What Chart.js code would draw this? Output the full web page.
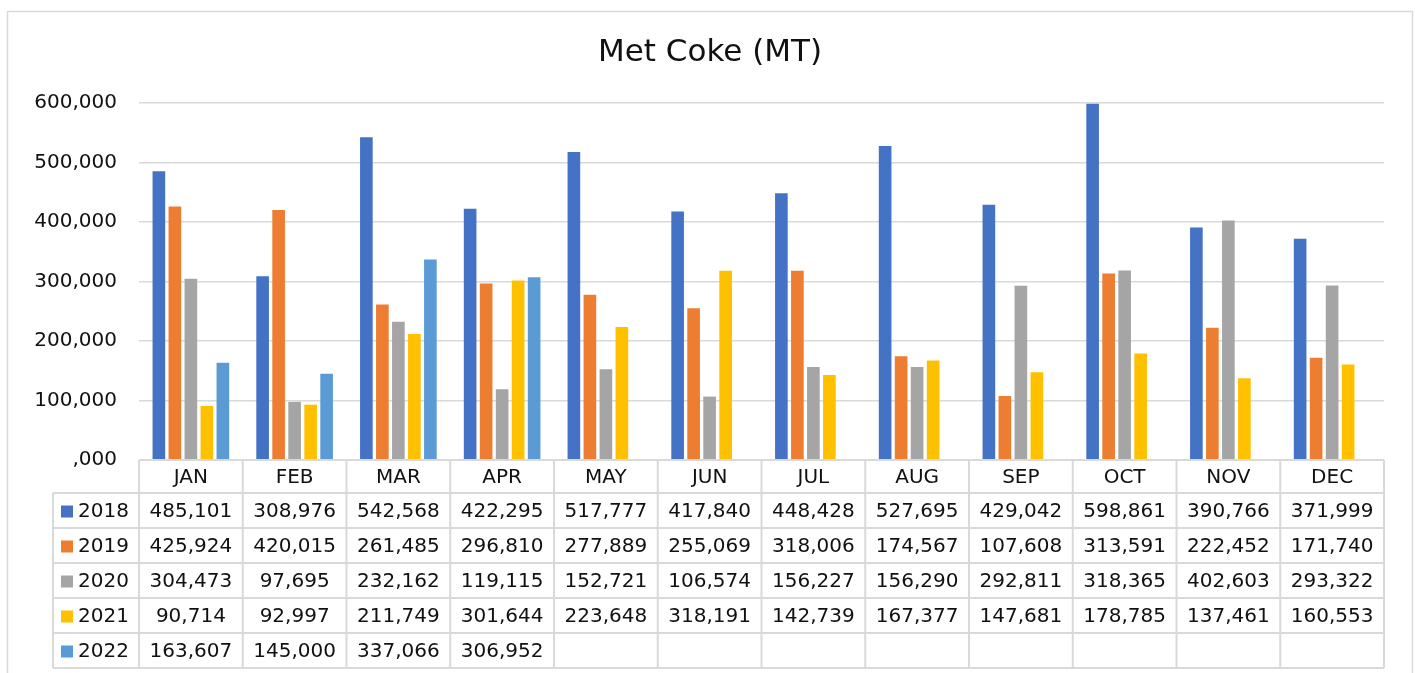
<!DOCTYPE html>
<html>
<head>
<meta charset="utf-8">
<script src="https://cdn.jsdelivr.net/npm/chart.js@4.4.1/dist/chart.umd.min.js"></script>
<style>
  html, body { margin: 0; padding: 0; background: #fff; overflow: hidden; }
  #wrap { width: 1415px; height: 673px; position: relative; }
</style>
</head>
<body>
<div id="wrap"><canvas id="chart"></canvas></div>
<script>
// --- Data ---
const months = ['JAN', 'FEB', 'MAR', 'APR', 'MAY', 'JUN', 'JUL', 'AUG', 'SEP', 'OCT', 'NOV', 'DEC'];
const years = ['2018', '2019', '2020', '2021', '2022'];
const colors = ['#4472C4', '#ED7D31', '#A5A5A5', '#FFC000', '#5B9BD5'];

const v2018 = [485101, 308976, 542568, 422295, 517777, 417840, 448428, 527695, 429042, 598861, 390766, 371999];
const v2019 = [425924, 420015, 261485, 296810, 277889, 255069, 318006, 174567, 107608, 313591, 222452, 171740];
const v2020 = [304473, 97695, 232162, 119115, 152721, 106574, 156227, 156290, 292811, 318365, 402603, 293322];
const v2021 = [90714, 92997, 211749, 301644, 223648, 318191, 142739, 167377, 147681, 178785, 137461, 160553];
const v2022 = [163607, 145000, 337066, 306952, null, null, null, null, null, null, null, null];
const series = [v2018, v2019, v2020, v2021, v2022];

const TITLE = 'Met Coke (MT)';
const FONT = "'DejaVu Sans', Verdana, sans-serif";
const TEXT = '#111';
const LINE = '#D9D9D9';
const fmt = v => v.toLocaleString('en-US');

// --- Title, frame and Excel-style data table ---
const dataTable = {
    id: 'dataTable',
    afterDraw(chart) {
        const { ctx, chartArea: { left, right, bottom }, scales: { x } } = chart;
        const colW = (right - left) / months.length;
        const headH = 33, rowH = 35, legL = 53;
        const rowsTop = bottom + headH;
        const tableBottom = rowsTop + rowH * series.length;

        ctx.save();
        ctx.strokeStyle = LINE;
        ctx.lineWidth = 2;
        ctx.beginPath();
        ctx.moveTo(left, bottom); ctx.lineTo(right, bottom);
        for (let r = 0; r <= series.length; r++) {
            const y = rowsTop + r * rowH;
            ctx.moveTo(legL, y); ctx.lineTo(right, y);
        }
        for (let i = 0; i <= months.length; i++) {
            const xx = left + i * colW;
            ctx.moveTo(xx, bottom); ctx.lineTo(xx, tableBottom);
        }
        ctx.moveTo(legL, rowsTop); ctx.lineTo(legL, tableBottom);
        ctx.stroke();

        ctx.font = '20px ' + FONT;
        ctx.textBaseline = 'middle';
        ctx.fillStyle = TEXT;
        ctx.textAlign = 'center';
        months.forEach((m, i) => ctx.fillText(m, x.getPixelForValue(i), bottom + headH / 2 + 1));

        series.forEach((s, r) => {
            const cy = rowsTop + r * rowH + rowH / 2 + 1;
            ctx.fillStyle = colors[r];
            ctx.fillRect(61, cy - 6, 12, 12);
            ctx.fillStyle = TEXT;
            ctx.textAlign = 'left';
            ctx.fillText(years[r], 78, cy);
            ctx.textAlign = 'center';
            s.forEach((v, i) => { if (v != null) ctx.fillText(fmt(v), x.getPixelForValue(i), cy); });
        });

        // title
        ctx.font = '31px ' + FONT;
        ctx.fillText(TITLE, 710, 53);

        // chart frame
        ctx.lineWidth = 1.5;
        ctx.strokeRect(7.5, 11.5, 1405, 700);
        ctx.restore();
    }
};

new Chart(document.getElementById('chart'), {
    type: 'bar',
    data: {
        labels: months,
        datasets: years.map((y, i) => ({
            label: y,
            data: series[i],
            backgroundColor: colors[i],
            borderWidth: 0,
            categoryPercentage: 0.771,
            barPercentage: 0.79
        }))
    },
    options: {
        responsive: true, maintainAspectRatio: false, animation: false,
        layout: { padding: { left: 0, right: 31, top: 103, bottom: 213 } },
        plugins: {
            legend: { display: false },
            tooltip: { enabled: false },
            title: { display: false }
        },
        scales: {
            x: { display: false },
            y: {
                min: 0, max: 600000,
                border: { display: false },
                grid: { color: LINE, lineWidth: 1.5, drawTicks: false },
                ticks: {
                    stepSize: 100000, padding: 22, color: TEXT,
                    font: { family: FONT, size: 20 },
                    callback: v => v === 0 ? ',000' : fmt(v)
                },
                afterFit: s => { s.width = 139; }
            }
        }
    },
    plugins: [dataTable]
});
</script>
</body>
</html>
